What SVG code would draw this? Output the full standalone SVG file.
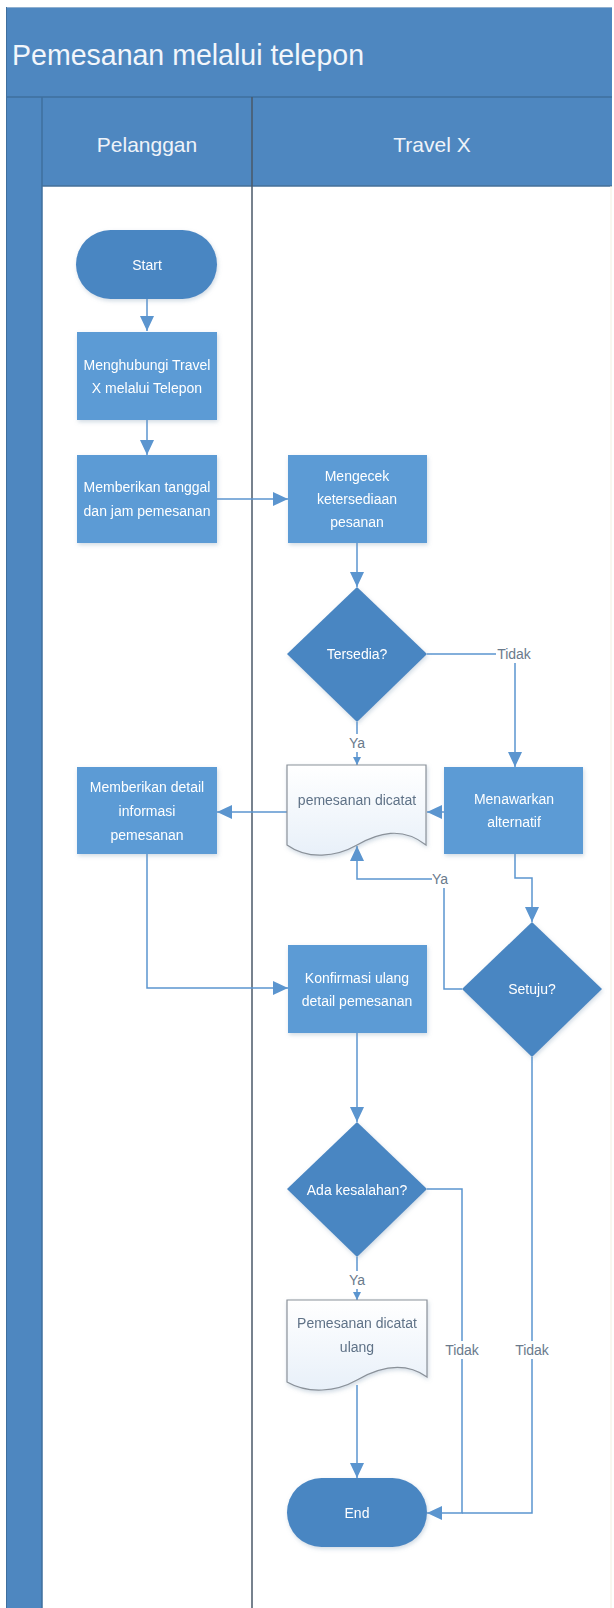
<svg xmlns="http://www.w3.org/2000/svg" width="614" height="1608" viewBox="0 0 614 1608">
<style>
  .t{font-family:"Liberation Sans",Arial,sans-serif;font-size:14px;fill:#ffffff;text-anchor:middle}
  .dt{font-family:"Liberation Sans",Arial,sans-serif;font-size:14px;fill:#5f7287;text-anchor:middle}
  .lb{font-family:"Liberation Sans",Arial,sans-serif;font-size:14px;fill:#6a7a8c;text-anchor:middle}
  .proc{fill:#5b9bd5}
  .dec{fill:#4a86c2}
  .doc{fill:url(#dg);stroke:#8a9199;stroke-width:1.2}
  .c{fill:none;stroke:#5b95cf;stroke-width:1.5}
  .bg{fill:#ffffff}
</style>
<defs>
  <linearGradient id="dg" x1="0" y1="0" x2="0" y2="1">
    <stop offset="0" stop-color="#ffffff"/>
    <stop offset="1" stop-color="#e8f0f9"/>
  </linearGradient>
  <filter id="sh" x="-10%" y="-10%" width="125%" height="125%">
    <feDropShadow dx="1" dy="2" stdDeviation="2" flood-color="#7a94b0" flood-opacity="0.35"/>
  </filter>
  <marker id="a" markerUnits="userSpaceOnUse" markerWidth="16" markerHeight="14" refX="15" refY="7" orient="auto">
    <path d="M0,0 L15,7 L0,14 Z" fill="#5b95cf"/>
  </marker>
  <marker id="as" markerUnits="userSpaceOnUse" markerWidth="9" markerHeight="8" refX="8" refY="4" orient="auto">
    <path d="M0,0 L8,4 L0,8 Z" fill="#5b95cf"/>
  </marker>
</defs>

<g id="frame">
  <rect x="6" y="7" width="606" height="179" fill="#4e87c0"/>
  <rect x="6" y="97" width="36" height="1511" fill="#4e87c0"/>
  <rect x="42" y="186" width="570" height="1422" fill="#ffffff"/>
  <line x1="6" y1="7.5" x2="612" y2="7.5" stroke="#8fb0d0" stroke-width="1"/>
  <line x1="6" y1="97" x2="612" y2="97" stroke="#3f6f9e" stroke-width="1.5"/>
  <line x1="42" y1="186" x2="612" y2="186" stroke="#456f98" stroke-width="1.5"/>
  <line x1="42" y1="97" x2="42" y2="1608" stroke="#3f6f9e" stroke-width="1.5"/>
  <line x1="6.5" y1="7" x2="6.5" y2="1608" stroke="#3f6f9e" stroke-width="1"/>
  <line x1="252" y1="97" x2="252" y2="1608" stroke="#4a5868" stroke-width="1.5"/>
  <line x1="611" y1="186" x2="611" y2="1608" stroke="#f3efe0" stroke-width="1"/>
  <text x="12" y="65" font-family="'Liberation Sans',Arial,sans-serif" font-size="29" fill="#f2f6fb" textLength="352" lengthAdjust="spacingAndGlyphs">Pemesanan melalui telepon</text>
  <text x="147" y="152" font-family="'Liberation Sans',Arial,sans-serif" font-size="21" fill="#eef3f9" text-anchor="middle">Pelanggan</text>
  <text x="432" y="152" font-family="'Liberation Sans',Arial,sans-serif" font-size="21" fill="#eef3f9" text-anchor="middle">Travel X</text>
</g>

<g id="connectors">
  <path class="c" d="M147,299 V331" marker-end="url(#a)"/>
  <path class="c" d="M147,420 V455" marker-end="url(#a)"/>
  <path class="c" d="M217,499 H288" marker-end="url(#a)"/>
  <path class="c" d="M357,543 V587" marker-end="url(#a)"/>
  <path class="c" d="M357,722 V765" marker-end="url(#as)"/>
  <path class="c" d="M427,654 H515 V767" marker-end="url(#a)"/>
  <path class="c" d="M444,812 H427" marker-end="url(#a)"/>
  <path class="c" d="M287,812 H217" marker-end="url(#a)"/>
  <path class="c" d="M515,854 V878 H532 V922" marker-end="url(#a)"/>
  <path class="c" d="M462,989 H444 V879 H357 V846" marker-end="url(#a)"/>
  <path class="c" d="M147,854 V988 H288" marker-end="url(#a)"/>
  <path class="c" d="M357,1033 V1122" marker-end="url(#a)"/>
  <path class="c" d="M357,1257 V1300" marker-end="url(#as)"/>
  <path class="c" d="M357,1385 V1478" marker-end="url(#a)"/>
  <path class="c" d="M427,1189 H462 V1513 H427" marker-end="url(#a)"/>
  <path class="c" d="M532,1057 V1513 H462"/>
  <rect class="bg" x="348" y="734" width="18" height="18"/>
  <text class="lb" x="357" y="748">Ya</text>
  <rect class="bg" x="496" y="645" width="36" height="18"/>
  <text class="lb" x="514" y="659">Tidak</text>
  <rect class="bg" x="432" y="870" width="17" height="18"/>
  <text class="lb" x="440" y="884">Ya</text>
  <rect class="bg" x="348" y="1271" width="18" height="18"/>
  <text class="lb" x="357" y="1285">Ya</text>
  <rect class="bg" x="444" y="1341" width="36" height="18"/>
  <text class="lb" x="462" y="1355">Tidak</text>
  <rect class="bg" x="514" y="1341" width="36" height="18"/>
  <text class="lb" x="532" y="1355">Tidak</text>
</g>

<g id="start" filter="url(#sh)">
  <rect class="dec" x="76" y="230" width="141" height="69" rx="34.5"/>
  <text class="t" x="147" y="270">Start</text>
</g>
<g id="menghubungi" filter="url(#sh)">
  <rect class="proc" x="77" y="332" width="140" height="88"/>
  <text class="t" x="147" y="370">Menghubungi Travel</text>
  <text class="t" x="147" y="393">X melalui Telepon</text>
</g>
<g id="memberikan-tanggal" filter="url(#sh)">
  <rect class="proc" x="77" y="455" width="140" height="88"/>
  <text class="t" x="147" y="492">Memberikan tanggal</text>
  <text class="t" x="147" y="516">dan jam pemesanan</text>
</g>
<g id="mengecek" filter="url(#sh)">
  <rect class="proc" x="288" y="455" width="139" height="88"/>
  <text class="t" x="357" y="481">Mengecek</text>
  <text class="t" x="357" y="504">ketersediaan</text>
  <text class="t" x="357" y="527">pesanan</text>
</g>
<g id="tersedia" filter="url(#sh)">
  <polygon class="dec" points="357,587 427,654 357,722 287,654"/>
  <text class="t" x="357" y="659">Tersedia?</text>
</g>
<g id="pemesanan-dicatat" filter="url(#sh)">
  <path class="doc" d="M287,765 H426 V845 C402,826 378,833 357,845 C336,857 308,860 287,845 Z"/>
  <text class="dt" x="357" y="805">pemesanan dicatat</text>
</g>
<g id="menawarkan" filter="url(#sh)">
  <rect class="proc" x="444" y="767" width="139" height="87"/>
  <text class="t" x="514" y="804">Menawarkan</text>
  <text class="t" x="514" y="827">alternatif</text>
</g>
<g id="memberikan-detail" filter="url(#sh)">
  <rect class="proc" x="77" y="767" width="140" height="87"/>
  <text class="t" x="147" y="792">Memberikan detail</text>
  <text class="t" x="147" y="816">informasi</text>
  <text class="t" x="147" y="840">pemesanan</text>
</g>
<g id="setuju" filter="url(#sh)">
  <polygon class="dec" points="532,922 602,989 532,1057 462,989"/>
  <text class="t" x="532" y="994">Setuju?</text>
</g>
<g id="konfirmasi" filter="url(#sh)">
  <rect class="proc" x="288" y="945" width="139" height="88"/>
  <text class="t" x="357" y="983">Konfirmasi ulang</text>
  <text class="t" x="357" y="1006">detail pemesanan</text>
</g>
<g id="ada-kesalahan" filter="url(#sh)">
  <polygon class="dec" points="357,1122 427,1189 357,1257 287,1189"/>
  <text class="t" x="357" y="1195">Ada kesalahan?</text>
</g>
<g id="pemesanan-dicatat-ulang" filter="url(#sh)">
  <path class="doc" d="M287,1300 H427 V1377 C403,1360 378,1368 357,1380 C336,1392 308,1394 287,1382 Z"/>
  <text class="dt" x="357" y="1328">Pemesanan dicatat</text>
  <text class="dt" x="357" y="1352">ulang</text>
</g>
<g id="end" filter="url(#sh)">
  <rect class="dec" x="287" y="1478" width="140" height="69" rx="34.5"/>
  <text class="t" x="357" y="1518">End</text>
</g>
</svg>
